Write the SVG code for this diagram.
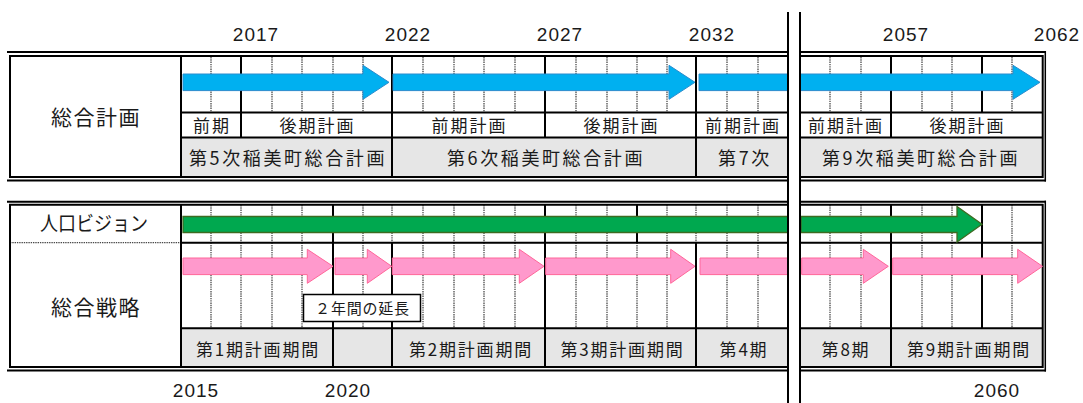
<svg xmlns="http://www.w3.org/2000/svg" width="1083" height="403" viewBox="0 0 1083 403">
<style>
.sl{stroke:#000;stroke-width:2;fill:none}
.bd{stroke:#000;stroke-width:2;fill:none}
.dl{stroke:#4a4a4a;stroke-width:1.3;stroke-dasharray:1.4 0.9;fill:none}
.gray{fill:#e6e6e6}
.t{font-family:"Noto Sans CJK JP","Noto Sans CJK SC",sans-serif;fill:#1a1a1a;text-anchor:middle}
.lab{font-size:21px;letter-spacing:1.5px}
.r2{font-size:17px;letter-spacing:2px}
.r3{font-size:18px;letter-spacing:2.6px}
.g3{font-size:17px;letter-spacing:1.8px}
.yr{font-family:"Liberation Sans",Arial,sans-serif;font-size:19px;letter-spacing:1px;text-anchor:middle;fill:#1a1a1a}
.blue{fill:#00b0f0;stroke:#2a8ccd;stroke-width:1}
.green{fill:#00a84f;stroke:#3d6b21;stroke-width:1.3}
.pink{fill:#ff99cc;stroke:#ff6699;stroke-width:1}
</style>
<rect width="1083" height="403" fill="#fff"/>

<g id="year-labels">
<text class="yr" x="256" y="40.5">2017</text>
<text class="yr" x="408" y="40.5">2022</text>
<text class="yr" x="560" y="40.5">2027</text>
<text class="yr" x="712" y="40.5">2032</text>
<text class="yr" x="906" y="40.5">2057</text>
<text class="yr" x="1057" y="40.5">2062</text>
<text class="yr" x="196" y="396.5">2015</text>
<text class="yr" x="348" y="396.5">2020</text>
<text class="yr" x="997" y="396.5">2060</text>
</g>

<g id="plan-table">
<rect class="gray" x="181" y="137.5" width="861" height="39"/>
<path class="dl" d="M211,57V112M272,57V112M302,57V112M333,57V112M363,57V112M423,57V112M454,57V112M484,57V112M515,57V112M576,57V112M607,57V112M637,57V112M667,57V112M727,57V112M758,57V112M830,57V112M861,57V112M922,57V112M952,57V112M1012,57V112"/>
<path class="sl" d="M181,57V177M241,57V137.5M392,57V177M545,57V137.5M696,57V177M891,57V137.5M982,57V112.5M181,112.5H1042M181,137.5H1042"/>
<path class="bd" d="M7,52H1046M9,56H1043.5M9,177H1043.5M7,180.5H1046M10,55V178M1042.7,55V178"/>
<path d="M1045.3,51V181.5" stroke="#000" stroke-width="1.5"/>
</g>

<g id="strategy-table">
<rect class="gray" x="181" y="328.3" width="861" height="38"/>
<path class="dl" d="M211,205V242.7M241,205V242.7M272,205V242.7M302,205V242.7M363,205V242.7M392,205V242.7M423,205V242.7M454,205V242.7M484,205V242.7M515,205V242.7M576,205V242.7M607,205V242.7M667,205V242.7M696,205V242.7M727,205V242.7M758,205V242.7M830,205V242.7M861,205V242.7M922,205V242.7M952,205V242.7M1012,205V242.7"/>
<path class="dl" d="M211,242.7V328.3M241,242.7V328.3M272,242.7V328.3M302,242.7V328.3M363,242.7V328.3M423,242.7V328.3M454,242.7V328.3M484,242.7V328.3M515,242.7V328.3M576,242.7V328.3M607,242.7V328.3M637,242.7V328.3M667,242.7V328.3M727,242.7V328.3M758,242.7V328.3M830,242.7V328.3M861,242.7V328.3M922,242.7V328.3M952,242.7V328.3M1012,242.7V328.3"/>
<path class="dl" d="M10,242.7H181" stroke-width="1.6"/>
<path class="sl" d="M181,205V367M333,205V367M545,205V367M891,205V367M982,205V328.3M637,205V242.7M392,242.7V367M696,242.7V367M181,242.7H1042M181,328.3H1042"/>
<path class="bd" d="M7,201.7H1046M9,204.8H1043.5M9,367H1043.5M7,370.5H1046M10,204V368M1042.7,204V368"/>
<path d="M1045.3,200.7V371.5" stroke="#000" stroke-width="1.5"/>
</g>

<g id="arrows">
<path id="plan-arrow-5" class="blue" d="M183,74H363V65.3L389,82.3L363,99.3V90.6H183Z"/>
<path id="plan-arrow-6" class="blue" d="M393,74H669V65.3L695,82.3L669,99.3V90.6H393Z"/>
<path id="plan-arrow-7" class="blue" d="M699,74H789V90.6H699Z"/>
<path id="plan-arrow-9" class="blue" d="M800,74H1013V65.3L1040,82.3L1013,99.3V90.6H800Z"/>
<path id="vision-arrow-1" class="green" d="M183,216.5H789V232.5H183Z"/>
<path id="vision-arrow-2" class="green" d="M801,216.5H957V206.5L982,224.3L957,242V232.5H801Z"/>
<path id="strategy-arrow-1" class="pink" d="M183,258H307.3V249.3L333,266.3L307.3,283.3V274.6H183Z"/>
<path id="strategy-arrow-ext" class="pink" d="M335,258H367.3V249.3L391.7,266.3L367.3,283.3V274.6H335Z"/>
<path id="strategy-arrow-2" class="pink" d="M392.3,258H519.3V249.3L544,266.3L519.3,283.3V274.6H392.3Z"/>
<path id="strategy-arrow-3" class="pink" d="M545.7,258H670.7V249.3L695,266.3L670.7,283.3V274.6H545.7Z"/>
<path id="strategy-arrow-4" class="pink" d="M700,258H789.3V274.6H700Z"/>
<path id="strategy-arrow-8" class="pink" d="M801.7,258H863.3V249.3L888.3,266.3L863.3,283.3V274.6H801.7Z"/>
<path id="strategy-arrow-9" class="pink" d="M892.7,258H1017.7V249.3L1042.5,266.3L1017.7,283.3V274.6H892.7Z"/>
</g>

<g id="plan-labels">
<text class="t lab" x="96" y="124.5">総合計画</text>
<text class="t r2" x="212" y="131.5">前期</text>
<text class="t r2" x="317.5" y="131.5">後期計画</text>
<text class="t r2" x="469.5" y="131.5">前期計画</text>
<text class="t r2" x="621.5" y="131.5">後期計画</text>
<text class="t r2" x="743" y="131.5">前期計画</text>
<text class="t r2" x="846" y="131.5">前期計画</text>
<text class="t r2" x="967.5" y="131.5">後期計画</text>
<text class="t r3" x="288" y="164.5">第5次稲美町総合計画</text>
<text class="t r3" x="546" y="164.5">第6次稲美町総合計画</text>
<text class="t r3" x="745" y="164.5">第7次</text>
<text class="t r3" x="921" y="164.5">第9次稲美町総合計画</text>
</g>

<g id="strategy-labels">
<text class="t" x="40" y="230.5" font-size="20" style="text-anchor:start" textLength="108" lengthAdjust="spacingAndGlyphs">人口ビジョン</text>
<text class="t lab" x="96" y="315">総合戦略</text>
<text class="t g3" x="258" y="356.3">第1期計画期間</text>
<text class="t g3" x="471" y="356.3">第2期計画期間</text>
<text class="t g3" x="622.5" y="356.3">第3期計画期間</text>
<text class="t g3" x="744" y="356.3">第4期</text>
<text class="t g3" x="846" y="356.3">第8期</text>
<text class="t g3" x="969" y="356.3">第9期計画期間</text>
</g>

<g id="extension-note">
<rect x="303.5" y="294.5" width="117" height="27" fill="#fff" stroke="#000" stroke-width="1.5"/>
<text class="t" x="362.5" y="313.5" font-size="15" letter-spacing="0.8">２年間の延長</text>
</g>

<g id="timeline-break">
<rect x="789" y="0" width="10" height="403" fill="#fff"/>
<path d="M788,12V403M800,12V403" stroke="#000" stroke-width="2"/>
</g>
</svg>
